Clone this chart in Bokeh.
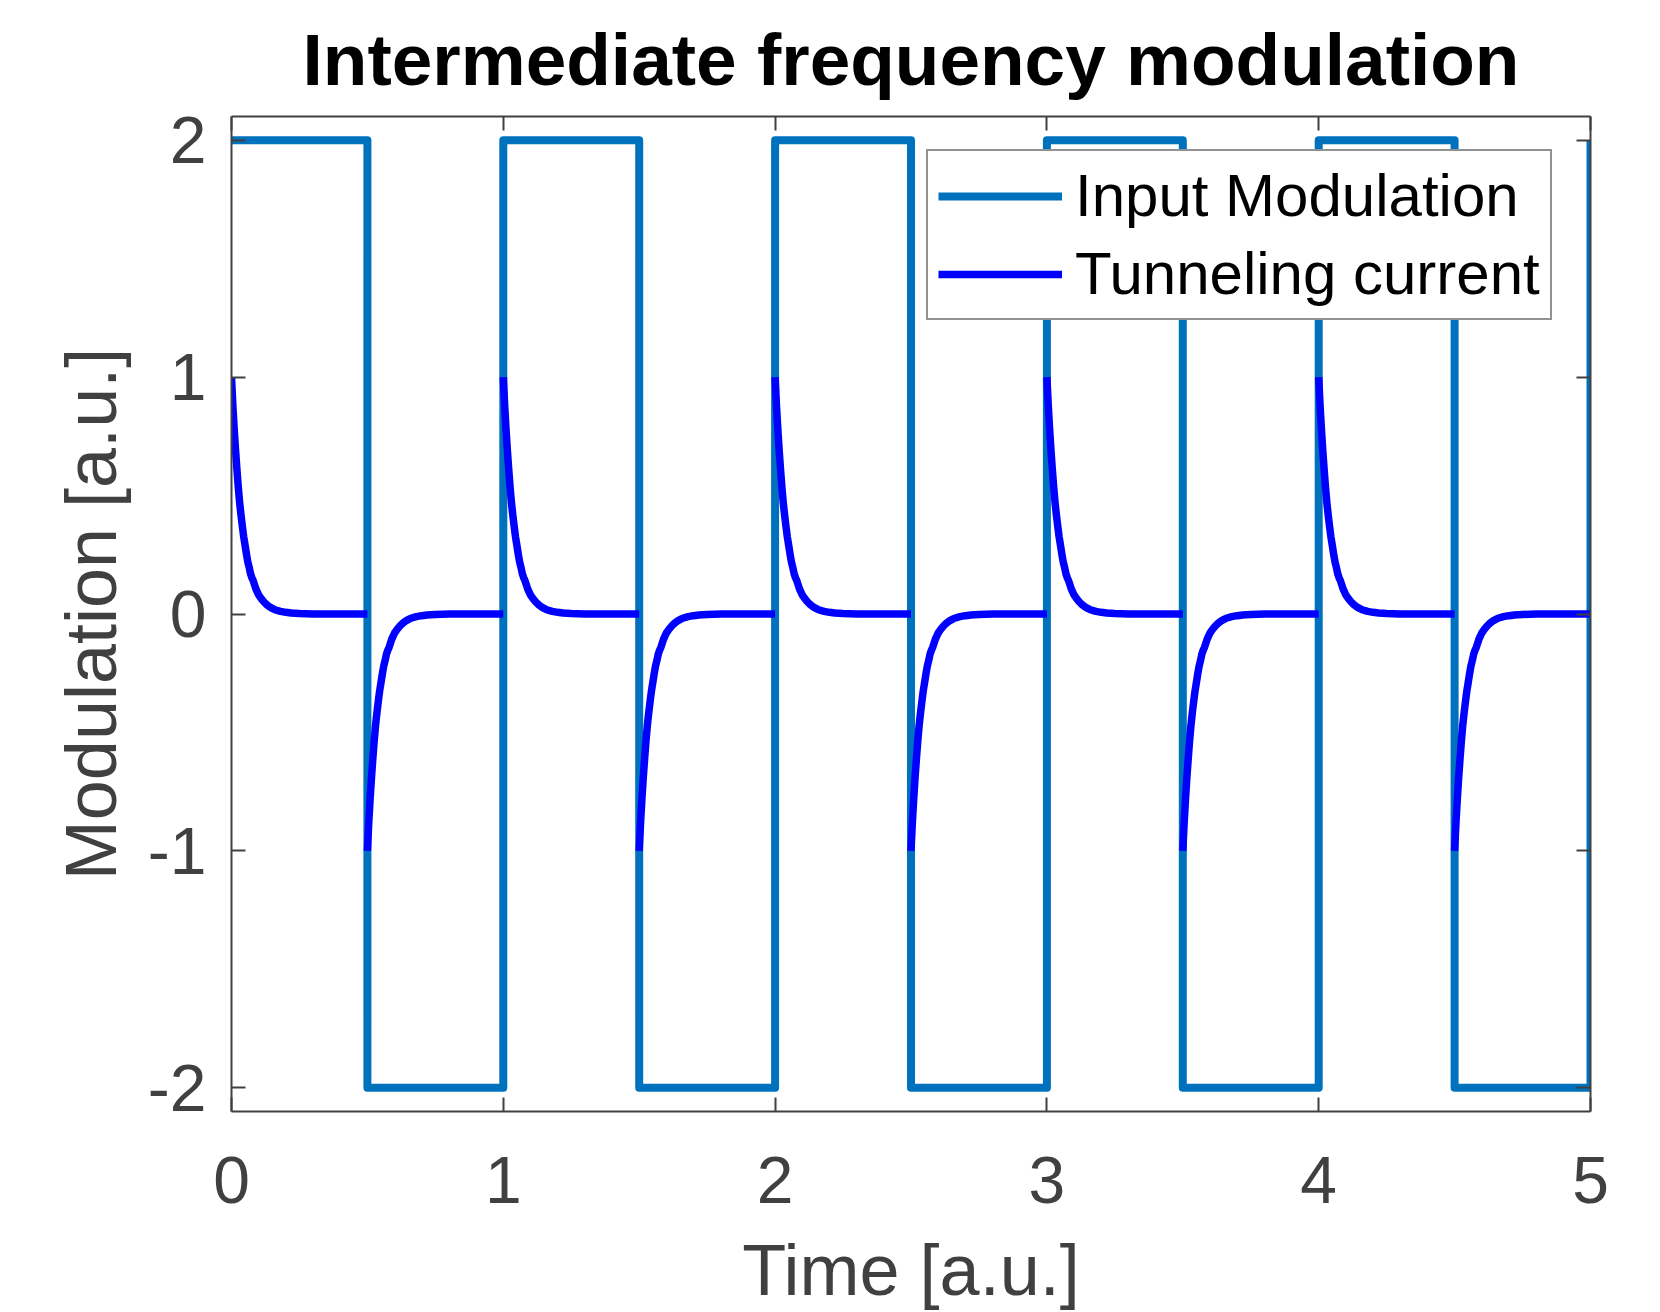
import numpy as np
from bokeh.plotting import figure
from bokeh.models import Range1d, LinearAxis, Legend, LegendItem, FixedTicker
from bokeh.embed import file_html
from bokeh.resources import INLINE

# Square-wave drive: each level is held from its switching time to the next one
switch_times = [0, 0.5, 1, 1.5, 2, 2.5, 3, 3.5, 4, 4.5, 5]
input_levels = [2, -2, 2, -2, 2, -2, 2, -2, 2, -2, 2]

# Tunneling current relaxing back to zero after every switching edge
response_offsets = [0, 0.005, 0.01, 0.015, 0.02, 0.025, 0.03, 0.035, 0.04, 0.045,
                    0.05, 0.055, 0.06, 0.065, 0.07, 0.075, 0.08, 0.09, 0.10, 0.11,
                    0.12, 0.13, 0.14, 0.15, 0.16, 0.18, 0.20, 0.22, 0.25, 0.30,
                    0.40, 0.50]
response_values = [1.0, 0.88, 0.78, 0.69, 0.61, 0.535, 0.47, 0.417, 0.37, 0.325,
                   0.29, 0.253, 0.22, 0.197, 0.17, 0.153, 0.14, 0.105, 0.08, 0.064,
                   0.05, 0.039, 0.03, 0.024, 0.018, 0.011, 0.007, 0.004, 0.002, 0.0,
                   0.0, 0.0]
response_peaks = [1, -1, 1, -1, 1, -1, 1, -1, 1, -1]

x_ticks = [0, 1, 2, 3, 4, 5]
y_ticks = [-2, -1, 0, 1, 2]

# one curve piece per half period, separated by NaN so the pieces stay apart
cur_t, cur_y = [], []
for t0, peak in zip(switch_times[:-1], response_peaks):
    cur_t += [t0 + dt for dt in response_offsets] + [np.nan]
    cur_y += [peak * v for v in response_values] + [np.nan]

AXIS_COLOR = "#404040"
FONT = "Liberation Sans"

p = figure(width=1660, height=1312, output_backend="svg", toolbar_location=None,
           x_range=Range1d(0, 5), y_range=Range1d(-2.1, 2.1),
           min_border_left=231, min_border_right=70,
           min_border_top=115, min_border_bottom=199,
           background_fill_color="white", border_fill_color="white")
p.outline_line_color = None
p.grid.visible = False

p.title.text = "Intermediate frequency modulation"
p.title.text_font = FONT
p.title.text_font_size = "73px"
p.title.text_font_style = "bold"
p.title.text_color = "black"
p.title.align = "center"
p.title.standoff = 33

sq = p.step(switch_times, input_levels, mode="after", line_color="#0072BD",
            line_width=8, line_join="round")
cur = p.line(cur_t, cur_y, line_color="#0000FF", line_width=7.5,
             line_join="round")

def style_axis(ax, label_size):
    ax.axis_line_color = AXIS_COLOR
    ax.axis_line_width = 2
    ax.major_tick_line_color = AXIS_COLOR
    ax.major_tick_line_width = 2
    ax.major_tick_in = 14
    ax.major_tick_out = 0
    ax.minor_tick_line_color = None
    ax.major_label_text_font = FONT
    ax.major_label_text_font_size = label_size
    ax.major_label_text_color = AXIS_COLOR
    ax.axis_label_text_font = FONT
    ax.axis_label_text_font_size = "72px"
    ax.axis_label_text_font_style = "normal"
    ax.axis_label_text_color = AXIS_COLOR

xa = p.xaxis[0]
ya = p.yaxis[0]
xa.ticker = FixedTicker(ticks=x_ticks)
ya.ticker = FixedTicker(ticks=y_ticks)
ya.major_label_overrides = {t: str(t) for t in y_ticks}
style_axis(xa, "66px")
style_axis(ya, "66px")
xa.axis_label = "Time [a.u.]"
ya.axis_label = "Modulation [a.u.]"
xa.major_label_standoff = 45
ya.major_label_standoff = 25
xa.axis_label_standoff = 24
ya.axis_label_standoff = 14

top_ax = LinearAxis(ticker=FixedTicker(ticks=x_ticks))
right_ax = LinearAxis(ticker=FixedTicker(ticks=y_ticks))
for ax in (top_ax, right_ax):
    style_axis(ax, "1px")
    ax.major_label_text_color = None
    ax.major_label_standoff = 0
p.add_layout(top_ax, "above")
p.add_layout(right_ax, "right")

legend = Legend(items=[LegendItem(label="Input Modulation", renderers=[sq]),
                       LegendItem(label="Tunneling current", renderers=[cur])],
                location=(695, 791))
legend.label_text_font = FONT
legend.label_text_font_size = "60px"
legend.label_text_color = "black"
legend.glyph_width = 124
legend.glyph_height = 68
legend.label_height = 68
legend.label_standoff = 13
legend.spacing = 9
legend.padding = 10
legend.margin = 0
legend.border_line_color = "#262626"
legend.border_line_width = 2
legend.background_fill_color = "white"
legend.background_fill_alpha = 1
p.add_layout(legend, "center")

open("out.html", "w").write(file_html(p, INLINE))
